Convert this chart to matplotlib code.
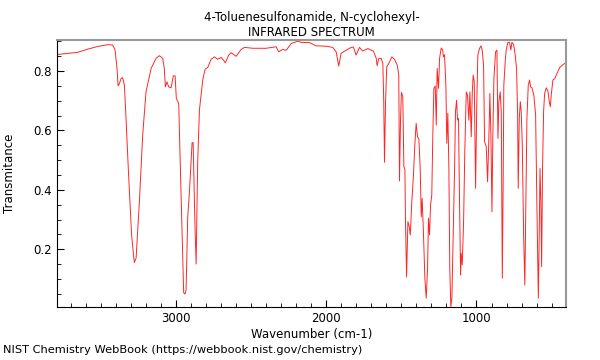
import matplotlib
matplotlib.use("Agg")
import matplotlib.pyplot as plt
from matplotlib.ticker import MultipleLocator

# wavenumber (cm-1)
wavenumber = [
    3795, 3660, 3591, 3524, 3458, 3424, 3408, 3395, 3388, 3380, 3368, 3358,
    3346, 3335, 3320, 3298, 3280, 3268, 3246, 3224, 3202, 3168, 3135, 3113,
    3091, 3080, 3073, 3062, 3051, 3035, 3020, 3008, 3000, 2984, 2973, 2951,
    2942, 2935, 2924, 2913, 2902, 2895, 2888, 2884, 2875, 2868, 2858, 2846,
    2824, 2808, 2791, 2768, 2746, 2724, 2702, 2686, 2673, 2651, 2635, 2602,
    2568, 2546, 2491, 2446, 2402, 2335, 2318, 2291, 2268, 2235, 2191, 2168,
    2113, 2068, 2002, 1958, 1935, 1918, 1902, 1880, 1835, 1820, 1802, 1780,
    1758, 1724, 1686, 1668, 1662, 1651, 1635, 1624, 1618, 1613, 1606, 1598,
    1584, 1564, 1546, 1528, 1518, 1513, 1506, 1500, 1491, 1484, 1477, 1473,
    1466, 1457, 1448, 1441, 1431, 1420, 1411, 1402, 1393, 1384, 1375, 1368,
    1362, 1353, 1344, 1335, 1326, 1320, 1313, 1306, 1298, 1291, 1284, 1275,
    1268, 1262, 1253, 1246, 1235, 1226, 1220, 1213, 1204, 1198, 1191, 1184,
    1178, 1171, 1164, 1155, 1146, 1140, 1133, 1126, 1120, 1113, 1106, 1102,
    1095, 1086, 1078, 1068, 1060, 1051, 1044, 1035, 1028, 1022, 1015, 1006,
    998, 991, 980, 971, 962, 953, 946, 935, 926, 917, 911, 904,
    897, 891, 884, 873, 864, 857, 851, 842, 835, 828, 822, 818,
    808, 802, 791, 780, 771, 764, 753, 742, 733, 726, 722, 715,
    708, 702, 695, 686, 678, 671, 664, 655, 646, 640, 631, 618,
    606, 598, 588, 582, 577, 571, 566, 560, 553, 546, 535, 524,
    515, 508, 502, 491, 478, 464, 446, 424, 411,
]
transmittance = [
    0.856, 0.863, 0.874, 0.883, 0.889, 0.888, 0.871, 0.809, 0.750, 0.757, 0.775, 0.778,
    0.753, 0.641, 0.472, 0.248, 0.155, 0.170, 0.360, 0.585, 0.730, 0.809, 0.843, 0.852,
    0.843, 0.809, 0.747, 0.764, 0.747, 0.744, 0.784, 0.784, 0.708, 0.691, 0.473, 0.053,
    0.049, 0.063, 0.309, 0.389, 0.489, 0.559, 0.559, 0.467, 0.265, 0.150, 0.489, 0.669,
    0.770, 0.807, 0.812, 0.840, 0.848, 0.840, 0.846, 0.837, 0.828, 0.854, 0.862, 0.850,
    0.873, 0.880, 0.877, 0.877, 0.877, 0.882, 0.865, 0.873, 0.870, 0.893, 0.901, 0.897,
    0.896, 0.885, 0.884, 0.880, 0.865, 0.817, 0.860, 0.867, 0.880, 0.881, 0.854, 0.880,
    0.868, 0.876, 0.867, 0.843, 0.818, 0.843, 0.843, 0.826, 0.697, 0.493, 0.697, 0.815,
    0.826, 0.848, 0.840, 0.820, 0.787, 0.430, 0.641, 0.728, 0.714, 0.478, 0.470, 0.293,
    0.107, 0.293, 0.276, 0.248, 0.360, 0.450, 0.551, 0.624, 0.579, 0.570, 0.472, 0.309,
    0.371, 0.248, 0.102, 0.035, 0.136, 0.304, 0.248, 0.349, 0.383, 0.585, 0.742, 0.750,
    0.618, 0.809, 0.742, 0.843, 0.878, 0.872, 0.848, 0.855, 0.753, 0.557, 0.658, 0.472,
    0.136, 0.006, 0.035, 0.248, 0.472, 0.663, 0.702, 0.635, 0.640, 0.360, 0.113, 0.186,
    0.147, 0.293, 0.528, 0.730, 0.719, 0.635, 0.730, 0.579, 0.730, 0.787, 0.764, 0.405,
    0.697, 0.854, 0.876, 0.885, 0.871, 0.820, 0.562, 0.545, 0.427, 0.585, 0.725, 0.585,
    0.326, 0.585, 0.775, 0.865, 0.871, 0.573, 0.697, 0.730, 0.663, 0.102, 0.450, 0.753,
    0.837, 0.871, 0.897, 0.897, 0.871, 0.897, 0.890, 0.854, 0.809, 0.652, 0.405, 0.641,
    0.697, 0.663, 0.551, 0.248, 0.079, 0.360, 0.641, 0.753, 0.770, 0.747, 0.744, 0.719,
    0.652, 0.360, 0.035, 0.248, 0.472, 0.360, 0.141, 0.472, 0.663, 0.725, 0.744, 0.733,
    0.697, 0.680, 0.719, 0.770, 0.775, 0.792, 0.812, 0.822, 0.826,
]

fig = plt.figure(figsize=(6, 3.6), dpi=100)
ax = fig.add_axes([0.095, 0.147, 0.848, 0.742])

ax.plot(wavenumber, transmittance, color="red", lw=0.7, alpha=0.85)

ax.set_xlim(3795, 405)
ax.set_ylim(0.005, 0.905)
ax.xaxis.set_major_locator(MultipleLocator(1000))
ax.xaxis.set_minor_locator(MultipleLocator(100))
ax.yaxis.set_major_locator(MultipleLocator(0.2))
ax.yaxis.set_minor_locator(MultipleLocator(0.05))
ax.tick_params(which="both", direction="in", labelsize=8.5)
ax.tick_params(which="major", length=5)
ax.tick_params(which="minor", length=3)

for side in ["top", "right"]:
    ax.spines[side].set_color("#999999")
    ax.spines[side].set_linewidth(1.5)

ax.set_xlabel("Wavenumber (cm-1)", fontsize=8.5, labelpad=2)
ax.set_ylabel("Transmitance", fontsize=8.5)
ax.yaxis.set_label_coords(-0.08, 0.5)
ax.set_title("4-Toluenesulfonamide, N-cyclohexyl-\nINFRARED SPECTRUM", fontsize=8.5, pad=3)
fig.text(0.005, 0.02, "NIST Chemistry WebBook (https://webbook.nist.gov/chemistry)", fontsize=8.2)

fig.savefig("out.png")
